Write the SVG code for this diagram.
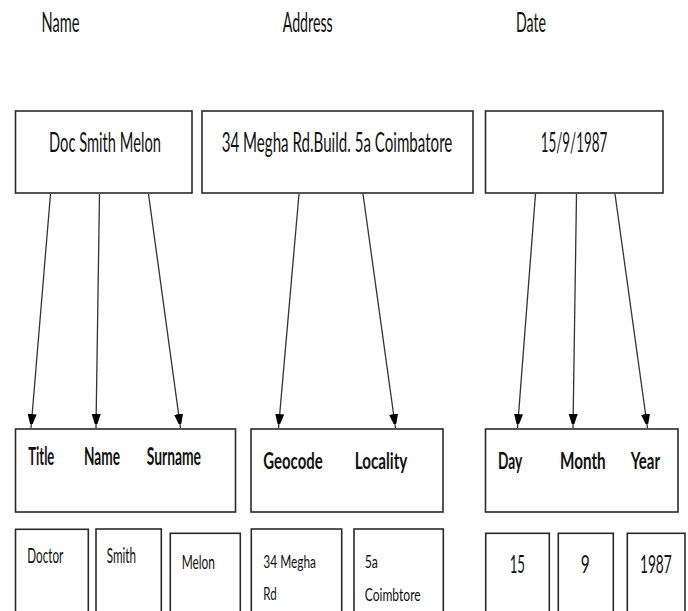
<svg xmlns="http://www.w3.org/2000/svg" width="688" height="611" viewBox="0 0 688 611">
<style>
text{font-family:Lato,"Liberation Sans",sans-serif;fill:#111}
.b{font-weight:bold}
.box{fill:#fff;stroke:#2a2a2a;stroke-width:1.6}
.con{stroke:#333;stroke-width:1.3;fill:none;marker-end:url(#ah)}
</style>
<defs>
<marker id="ah" markerUnits="userSpaceOnUse" markerWidth="10" markerHeight="16" viewBox="0 0 10 16" refX="14" refY="4.5" orient="auto">
<path d="M0,0 L14,4.5 L0,9 Z" fill="#000"/>
</marker>
</defs>
<rect width="688" height="611" fill="#fff"/>
<g id="headers">
<text transform="translate(41.5,32) scale(0.58,1)" font-size="27" textLength="65.5" lengthAdjust="spacingAndGlyphs">Name</text>
<text transform="translate(282.7,32) scale(0.58,1)" font-size="27" textLength="86.2" lengthAdjust="spacingAndGlyphs">Address</text>
<text transform="translate(516,32) scale(0.58,1)" font-size="27" textLength="51.7" lengthAdjust="spacingAndGlyphs">Date</text>
</g>
<g id="name-box">
<rect class="box" x="15.5" y="111" width="176.5" height="82"/>
<text transform="translate(49,151.5) scale(0.58,1)" font-size="27" textLength="193.1" lengthAdjust="spacingAndGlyphs">Doc Smith Melon</text>
</g>
<g id="address-box">
<rect class="box" x="202" y="111" width="271" height="82"/>
<text transform="translate(221.7,151.5) scale(0.58,1)" font-size="27" textLength="397.6" lengthAdjust="spacingAndGlyphs">34 Megha Rd.Build. 5a Coimbatore</text>
</g>
<g id="date-box">
<rect class="box" x="485.5" y="111" width="177.5" height="82"/>
<text transform="translate(540.7,151.5) scale(0.58,1)" font-size="27" textLength="114.8" lengthAdjust="spacingAndGlyphs">15/9/1987</text>
</g>
<g id="name-fields">
<rect class="box" x="15.5" y="429" width="220" height="83"/>
<text class="b" transform="translate(28.3,465) scale(0.58,1)" font-size="24" textLength="44.8" lengthAdjust="spacingAndGlyphs">Title</text>
<text class="b" transform="translate(84,465) scale(0.58,1)" font-size="24" textLength="62.1" lengthAdjust="spacingAndGlyphs">Name</text>
<text class="b" transform="translate(146.7,465) scale(0.58,1)" font-size="24" textLength="93.6" lengthAdjust="spacingAndGlyphs">Surname</text>
</g>
<g id="address-fields">
<rect class="box" x="251" y="429" width="192" height="83"/>
<text class="b" transform="translate(263.3,469) scale(0.58,1)" font-size="23" textLength="102.4" lengthAdjust="spacingAndGlyphs">Geocode</text>
<text class="b" transform="translate(354.7,469) scale(0.58,1)" font-size="23" textLength="90.7" lengthAdjust="spacingAndGlyphs">Locality</text>
</g>
<g id="date-fields">
<rect class="box" x="485.5" y="429" width="192.5" height="83"/>
<text class="b" transform="translate(498,469) scale(0.58,1)" font-size="23" textLength="41.9" lengthAdjust="spacingAndGlyphs">Day</text>
<text class="b" transform="translate(560,469) scale(0.58,1)" font-size="23" textLength="78.8" lengthAdjust="spacingAndGlyphs">Month</text>
<text class="b" transform="translate(630.7,469) scale(0.58,1)" font-size="23" textLength="50.5" lengthAdjust="spacingAndGlyphs">Year</text>
</g>
<g id="doctor">
<rect class="box" x="15.5" y="529.3" width="72.8" height="90"/>
<text transform="translate(27.3,563.3) scale(0.58,1)" font-size="21" textLength="62.1" lengthAdjust="spacingAndGlyphs">Doctor</text>
</g>
<g id="smith">
<rect class="box" x="96" y="529" width="65.3" height="90"/>
<text transform="translate(106.7,563) scale(0.58,1)" font-size="21" textLength="50.5" lengthAdjust="spacingAndGlyphs">Smith</text>
</g>
<g id="melon">
<rect class="box" x="170.3" y="533.3" width="70" height="90"/>
<text transform="translate(181.7,569) scale(0.58,1)" font-size="20" textLength="57.4" lengthAdjust="spacingAndGlyphs">Melon</text>
</g>
<g id="geocode-value">
<rect class="box" x="251.3" y="529" width="90.4" height="90"/>
<text transform="translate(263.3,567.5) scale(0.58,1)" font-size="18" textLength="90.9" lengthAdjust="spacingAndGlyphs">34 Megha</text>
<text transform="translate(263.3,600) scale(0.58,1)" font-size="18" textLength="23.1" lengthAdjust="spacingAndGlyphs">Rd</text>
</g>
<g id="locality-value">
<rect class="box" x="354" y="529" width="89.3" height="90"/>
<text transform="translate(364.7,567.7) scale(0.58,1)" font-size="18" textLength="22.9" lengthAdjust="spacingAndGlyphs">5a</text>
<text transform="translate(364.7,601.3) scale(0.58,1)" font-size="18" textLength="96.6" lengthAdjust="spacingAndGlyphs">Coimbtore</text>
</g>
<g id="day-value">
<rect class="box" x="485.7" y="533.3" width="63.6" height="90"/>
<text transform="translate(509.7,572.7) scale(0.58,1)" font-size="25" textLength="26.4" lengthAdjust="spacingAndGlyphs">15</text>
</g>
<g id="month-value">
<rect class="box" x="558.3" y="533.3" width="55" height="90"/>
<text transform="translate(580.7,572.7) scale(0.58,1)" font-size="25" textLength="15.5" lengthAdjust="spacingAndGlyphs">9</text>
</g>
<g id="year-value">
<rect class="box" x="627.3" y="533.3" width="57.7" height="90"/>
<text transform="translate(640,572.7) scale(0.58,1)" font-size="25" textLength="54.7" lengthAdjust="spacingAndGlyphs">1987</text>
</g>
<g id="connectors">
<line class="con" x1="50.5" y1="194" x2="31" y2="428"/>
<line class="con" x1="99.5" y1="194" x2="96" y2="428"/>
<line class="con" x1="148.5" y1="194" x2="180.5" y2="428"/>
<line class="con" x1="299" y1="194" x2="278.5" y2="428"/>
<line class="con" x1="363" y1="194" x2="395.5" y2="428"/>
<line class="con" x1="535.5" y1="194" x2="517.5" y2="428"/>
<line class="con" x1="576.5" y1="194" x2="573" y2="428"/>
<line class="con" x1="615" y1="194" x2="647.5" y2="428"/>
</g>
</svg>
